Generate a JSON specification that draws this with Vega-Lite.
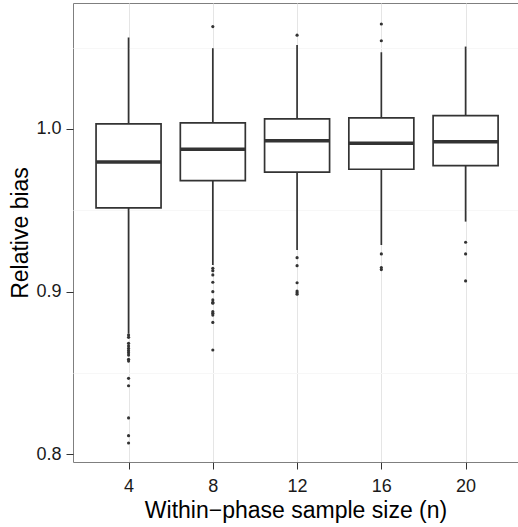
{
  "$schema": "https://vega.github.io/schema/vega-lite/v6.json",
  "autosize": "none",
  "padding": {"left": 73, "top": 3, "right": 0, "bottom": 65},
  "width": 445,
  "height": 459,
  "background": "white",
  "config": {
    "view": {"stroke": "#7F7F7F", "strokeWidth": 1},
    "font": "Liberation Sans",
    "axis": {
      "labelFont": "Liberation Sans",
      "titleFont": "Liberation Sans",
      "labelFontSize": 18,
      "titleFontSize": 23,
      "titleFontWeight": "normal",
      "labelColor": "#1A1A1A",
      "titleColor": "#000000",
      "domain": false,
      "tickColor": "#333333",
      "tickSize": 7,
      "tickWidth": 1,
      "gridColor": "#E5E5E5",
      "gridWidth": 1
    }
  },
  "datasets": {
    "boxes": [
      {"n": 4, "lower": 0.8740, "q1": 0.9514, "median": 0.9797, "q3": 1.0031, "upper": 1.0562},
      {"n": 8, "lower": 0.9163, "q1": 0.9682, "median": 0.9875, "q3": 1.0037, "upper": 1.0497},
      {"n": 12, "lower": 0.9255, "q1": 0.9735, "median": 0.9928, "q3": 1.0062, "upper": 1.0517},
      {"n": 16, "lower": 0.9286, "q1": 0.9752, "median": 0.9912, "q3": 1.0068, "upper": 1.0472},
      {"n": 20, "lower": 0.9430, "q1": 0.9774, "median": 0.9922, "q3": 1.0082, "upper": 1.0507}
    ],
    "outliers": [
      {"n": 4, "value": 0.8732}, {"n": 4, "value": 0.8718}, {"n": 4, "value": 0.8681},
      {"n": 4, "value": 0.8665}, {"n": 4, "value": 0.8650}, {"n": 4, "value": 0.8636},
      {"n": 4, "value": 0.8623}, {"n": 4, "value": 0.8609}, {"n": 4, "value": 0.8583},
      {"n": 4, "value": 0.8572}, {"n": 4, "value": 0.8466}, {"n": 4, "value": 0.8420},
      {"n": 4, "value": 0.8222}, {"n": 4, "value": 0.8113}, {"n": 4, "value": 0.8068},
      {"n": 8, "value": 1.0630},
      {"n": 8, "value": 0.9143}, {"n": 8, "value": 0.9128}, {"n": 8, "value": 0.9102},
      {"n": 8, "value": 0.9057}, {"n": 8, "value": 0.8999}, {"n": 8, "value": 0.8948},
      {"n": 8, "value": 0.8934}, {"n": 8, "value": 0.8928}, {"n": 8, "value": 0.8876},
      {"n": 8, "value": 0.8866}, {"n": 8, "value": 0.8855}, {"n": 8, "value": 0.8810},
      {"n": 8, "value": 0.8640},
      {"n": 12, "value": 1.0577},
      {"n": 12, "value": 0.9208}, {"n": 12, "value": 0.9159}, {"n": 12, "value": 0.9054},
      {"n": 12, "value": 0.9003}, {"n": 12, "value": 0.8993}, {"n": 12, "value": 0.8983},
      {"n": 16, "value": 1.0646}, {"n": 16, "value": 1.0543},
      {"n": 16, "value": 0.9231}, {"n": 16, "value": 0.9147}, {"n": 16, "value": 0.9135},
      {"n": 20, "value": 0.9303}, {"n": 20, "value": 0.9231}, {"n": 20, "value": 0.9065}
    ]
  },
  "resolve": {"axis": {"y": "independent"}},
  "layer": [
    {
      "data": {"name": "boxes"},
      "mark": {"type": "rule", "color": "#333333", "strokeWidth": 1.7},
      "encoding": {
        "x": {
          "field": "n", "type": "quantitative",
          "scale": {"domain": [1.6, 22.25], "nice": false, "zero": false},
          "axis": {"values": [4, 8, 12, 16, 20], "format": "d", "title": "Within\u2212phase sample size (n)", "labelPadding": 8, "titlePadding": 4}
        },
        "y": {
          "field": "lower", "type": "quantitative",
          "scale": {"domain": [0.7951, 1.0775], "nice": false, "zero": false},
          "axis": {"orient": "right", "values": [0.85, 0.95, 1.05], "labels": false, "ticks": false, "title": null, "gridColor": "#F7F7F7"}
        },
        "y2": {"field": "upper"}
      }
    },
    {
      "data": {"name": "boxes"},
      "mark": {"type": "bar", "orient": "vertical", "size": 65, "fill": "white", "stroke": "#333333", "strokeWidth": 1.7},
      "encoding": {
        "x": {"field": "n", "type": "quantitative"},
        "y": {
          "field": "q1", "type": "quantitative",
          "axis": {"orient": "left", "values": [0.8, 0.9, 1.0], "format": ".1f", "title": "Relative bias", "labelPadding": 5, "titlePadding": 3}
        },
        "y2": {"field": "q3"}
      }
    },
    {
      "data": {"name": "boxes"},
      "mark": {"type": "tick", "orient": "horizontal", "size": 65, "thickness": 3.5, "color": "#333333", "opacity": 1},
      "encoding": {
        "x": {"field": "n", "type": "quantitative"},
        "y": {"field": "median", "type": "quantitative", "axis": null}
      }
    },
    {
      "data": {"name": "outliers"},
      "mark": {"type": "circle", "size": 10, "color": "#333333", "opacity": 1},
      "encoding": {
        "x": {"field": "n", "type": "quantitative"},
        "y": {"field": "value", "type": "quantitative", "axis": null}
      }
    }
  ]
}
